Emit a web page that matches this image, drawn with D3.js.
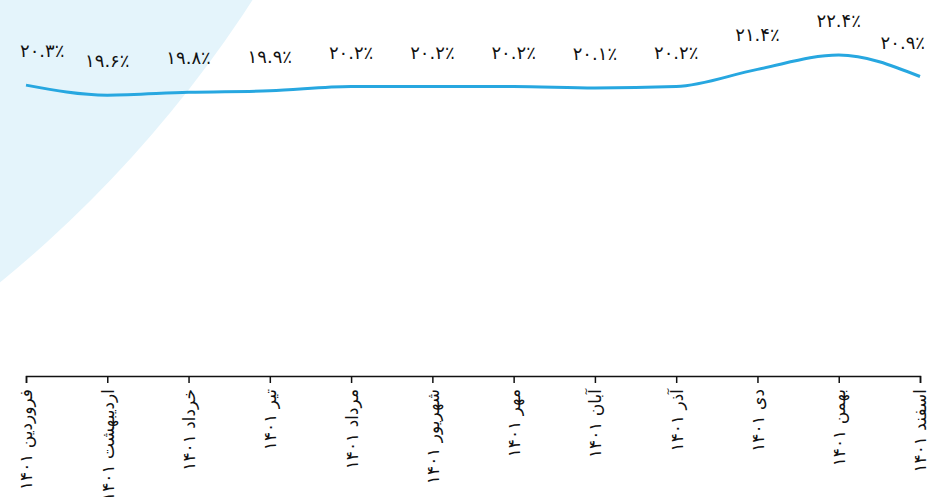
<!DOCTYPE html>
<html>
<head>
<meta charset="utf-8">
<script src="https://cdn.jsdelivr.net/npm/d3@7"></script>
<style>
html,body{margin:0;padding:0;background:#fff;}
svg{display:block;}
text{font-family:"DejaVu Sans","Noto Sans",sans-serif;fill:#111;}
</style>
</head>
<body>
<svg id="c" width="931" height="497"></svg>
<script>
const months = ["فروردین ۱۴۰۱","اردیبهشت ۱۴۰۱","خرداد ۱۴۰۱","تیر ۱۴۰۱","مرداد ۱۴۰۱","شهریور ۱۴۰۱","مهر ۱۴۰۱","آبان ۱۴۰۱","آذر ۱۴۰۱","دی ۱۴۰۱","بهمن ۱۴۰۱","اسفند ۱۴۰۱"];
const values = [20.3, 19.6, 19.8, 19.9, 20.2, 20.2, 20.2, 20.1, 20.2, 21.4, 22.4, 20.9];
const valueLabels = ["۲۰.۳٪","۱۹.۶٪","۱۹.۸٪","۱۹.۹٪","۲۰.۲٪","۲۰.۲٪","۲۰.۲٪","۲۰.۱٪","۲۰.۲٪","۲۱.۴٪","۲۲.۴٪","۲۰.۹٪"];

const W = 931, H = 497;
const svg = d3.select("#c");

// decorative background circle
svg.append("circle").attr("cx", -770).attr("cy", -660).attr("r", 1217).attr("fill", "#e4f4fb");

const x = d3.scalePoint().domain(months).range([26, 920]);
const y = d3.scaleLinear().domain([0, 26.24]).range([376, 0]);

const line = d3.line()
  .x((d, i) => x(months[i]))
  .y(d => y(d))
  .curve(d3.curveMonotoneX);

svg.append("path").datum(values)
  .attr("d", line)
  .attr("fill", "none")
  .attr("stroke", "#27a7e0")
  .attr("stroke-width", 3);

// value labels
const lbl = svg.append("g").selectAll("text").data(values).join("text")
  .attr("text-anchor", "middle")
  .attr("font-size", 18)
  .attr("y", d => y(d) - 28)
  .attr("x", (d, i) => x(months[i]))
  .text((d, i) => valueLabels[i]);
lbl.each(function(d, i) {
  const w = this.getComputedTextLength();
  let cx = x(months[i]);
  cx = Math.max(20 + w / 2, Math.min(925 - w / 2, cx));
  d3.select(this).attr("x", cx);
});

// x axis
const ax = svg.append("g").attr("transform", "translate(0,376)")
  .call(d3.axisBottom(x).tickSizeOuter(0).tickSize(7).tickPadding(0));
ax.select(".domain").attr("stroke", "#111").attr("stroke-width", 1.5);
ax.selectAll(".tick line").attr("stroke", "#111").attr("stroke-width", 1.5);
ax.selectAll(".tick text")
  .attr("font-family", '"DejaVu Sans",sans-serif')
  .attr("font-size", 17)
  .attr("fill", "#111")
  .attr("text-anchor", "end")
  .attr("dy", "0.35em")
  .attr("transform", "translate(0,13) rotate(-90)")
  .attr("x", 0).attr("y", 0);
</script>
</body>
</html>
